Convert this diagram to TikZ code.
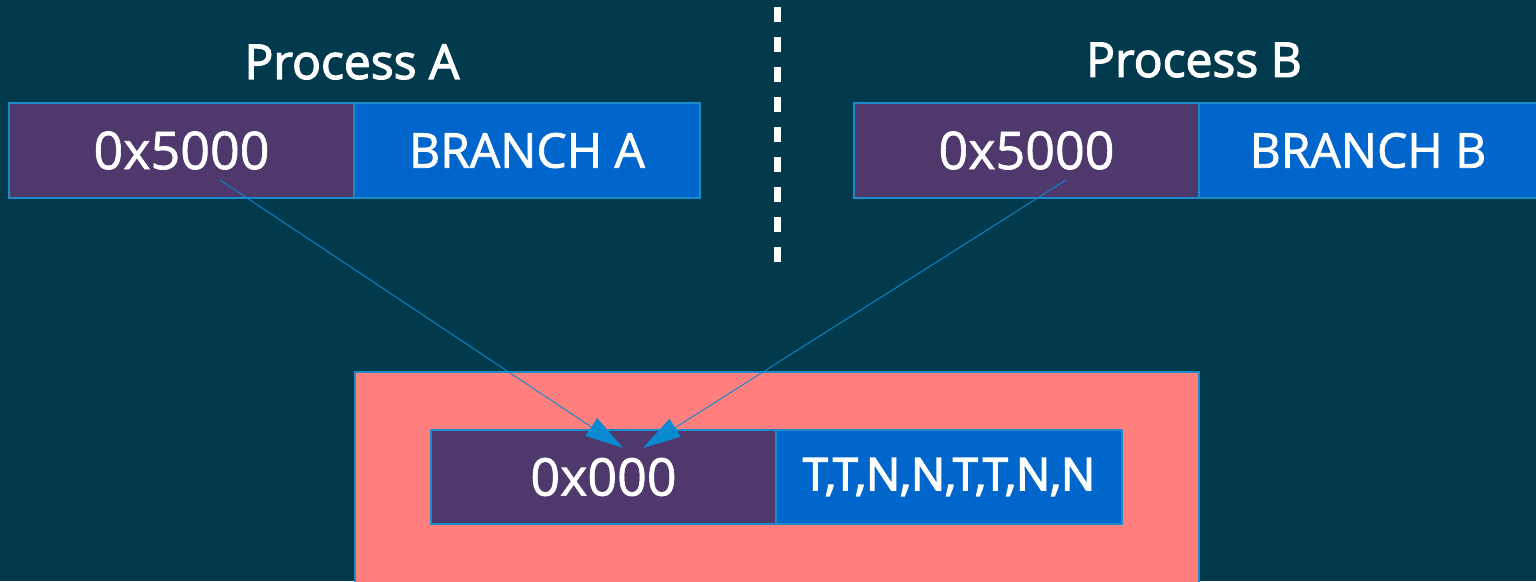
\documentclass[tikz,border=0pt]{standalone}
\usepackage{fontspec}
\setmainfont{Open Sans}
\usetikzlibrary{arrows.meta}
\definecolor{bgteal}{HTML}{003A4C}
\definecolor{addrpurple}{HTML}{4F386B}
\definecolor{histblue}{HTML}{0066CC}
\definecolor{tablesalmon}{HTML}{FF7F7F}
\definecolor{edgeblue}{HTML}{1C8CC8}
\definecolor{arrowblue}{HTML}{0A8AD0}
\tikzset{
  cell/.style={draw=edgeblue, line width=1.3pt, inner sep=0pt, text=white,
    font=\fontsize{48}{48}\selectfont\addfontfeatures{FakeBold=1.6}},
  hexfont/.style={font=\fontsize{52}{52}\selectfont\addfontfeatures{FakeBold=1.2}},
  addr/.style={cell, fill=addrpurple, hexfont},
  hist/.style={cell, fill=histblue},
  title/.style={text=white, font=\fontsize{48}{48}\selectfont\addfontfeatures{FakeBold=2.4}},
  pointer/.style={draw=arrowblue, line width=0.9pt,
    -{Triangle[length=38pt,width=21pt]}},
  divider/.style={draw=white, line width=7pt, dash pattern=on 15pt off 15pt},
}
\begin{document}
\begin{tikzpicture}[x=1pt,y=-1pt]
  \fill[bgteal] (0,0) rectangle (1536,581);
  \useasboundingbox (0,0) rectangle (1536,581);

  % dividing line between the two processes
  \coordinate (divtop) at (777,7);
  \coordinate (divbot) at (777,266);
  \draw[divider] (divtop) -- (divbot);

  % process A
  \node[title] (titleA) at (352,62) {Process A};
  \node[addr, minimum width=345pt, minimum height=95pt] (addrA) at (181.5,150.5) {0x5000};
  \node[hist, minimum width=346pt, minimum height=95pt] (histA) at (527,150.5) {BRANCH A};

  % process B
  \node[title] (titleB) at (1194,60) {Process B};
  \node[addr, minimum width=345pt, minimum height=95pt] (addrB) at (1026.5,150.5) {0x5000};
  \node[hist, minimum width=338pt, minimum height=95pt] (histB) at (1368,150.5) {BRANCH B};

  % shared predictor table
  \node[draw=edgeblue, line width=1.3pt, fill=tablesalmon, minimum width=844pt,
        minimum height=220pt, inner sep=0pt] (table) at (777,482) {};
  \node[addr, minimum width=345pt, minimum height=94pt] (addrT) at (603.5,477) {0x000};
  \node[hist, minimum width=346pt, minimum height=94pt,
        font=\fontsize{45}{45}\selectfont\addfontfeatures{FakeBold=3}] (histT) at (949,477) {T,T,N,N,T,T,N,N};

  % both addresses map onto the same entry
  \coordinate (fromA) at (220,180);
  \coordinate (toA) at (623,448);
  \coordinate (fromB) at (1066,180);
  \coordinate (toB) at (643,448);
  \draw[pointer] (fromA) -- (toA);
  \draw[pointer] (fromB) -- (toB);
\end{tikzpicture}
\end{document}
